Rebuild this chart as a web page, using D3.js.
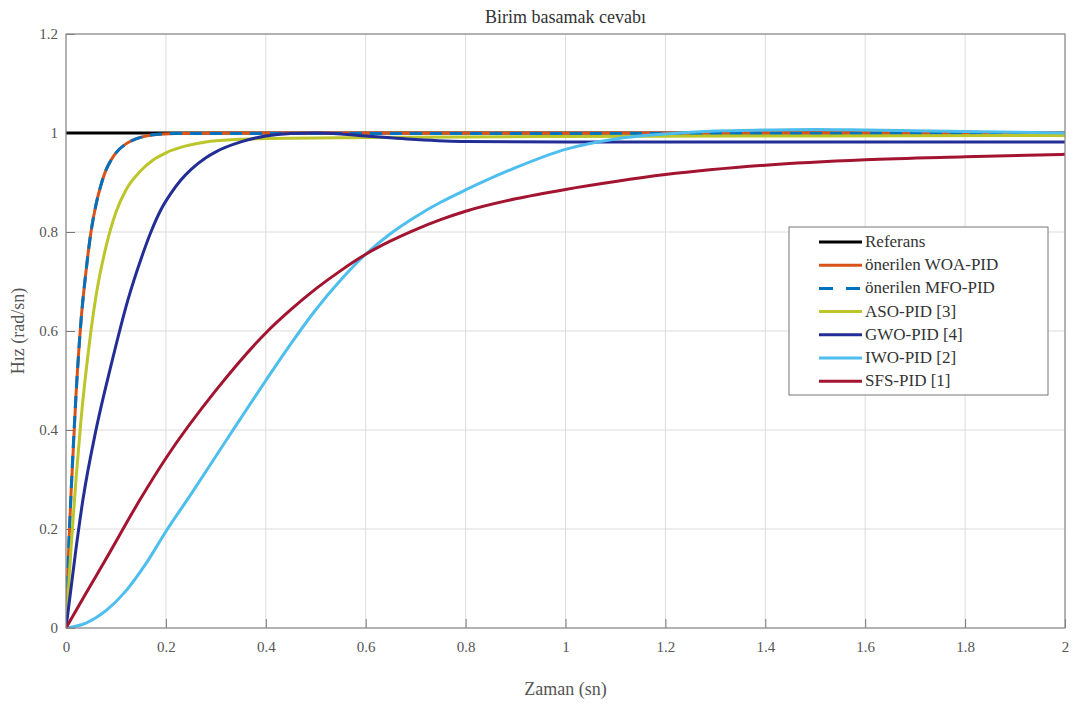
<!DOCTYPE html>
<html>
<head>
<meta charset="utf-8">
<script src="https://cdn.jsdelivr.net/npm/d3@7"></script>
<style>
  html, body { margin: 0; padding: 0; background: #fff; }
  svg { display: block; }
  svg text { font-family: "Liberation Serif", "Times New Roman", "DejaVu Serif", serif !important; }
</style>
</head>
<body>
<svg id="chart" width="1078" height="704"></svg>
<script>
// ---- data ----
const xTicks = [0, 0.2, 0.4, 0.6, 0.8, 1, 1.2, 1.4, 1.6, 1.8, 2];
const yTicks = [0, 0.2, 0.4, 0.6, 0.8, 1, 1.2];

const refT = [0, 2];
const refY = [1, 1];

const woaT = [0, 0.005, 0.01, 0.02, 0.03, 0.04, 0.05, 0.06, 0.07, 0.08, 0.09, 0.1, 0.12, 0.14, 0.16, 0.18, 0.22, 0.3, 0.5, 1, 2];
const woaY = [0, 0.15, 0.27, 0.47, 0.62, 0.72, 0.80, 0.855, 0.895, 0.925, 0.945, 0.96, 0.978, 0.988, 0.994, 0.997, 0.999, 1.0, 1.0, 1.0, 1.0];

const mfoT = [0, 0.005, 0.01, 0.02, 0.03, 0.04, 0.05, 0.06, 0.07, 0.08, 0.09, 0.1, 0.12, 0.14, 0.16, 0.18, 0.22, 0.3, 0.5, 1, 2];
const mfoY = [0, 0.15, 0.27, 0.47, 0.62, 0.72, 0.80, 0.855, 0.895, 0.925, 0.945, 0.96, 0.978, 0.988, 0.994, 0.997, 0.999, 0.999, 0.999, 0.999, 0.999];

const asoT = [0, 0.01, 0.02, 0.03, 0.045, 0.06, 0.08, 0.1, 0.12, 0.148, 0.175, 0.2, 0.24, 0.28, 0.34, 0.4, 0.6, 1.0, 1.5, 2.0];
const asoY = [0, 0.16, 0.30, 0.42, 0.56, 0.67, 0.77, 0.84, 0.885, 0.922, 0.946, 0.96, 0.974, 0.982, 0.987, 0.989, 0.991, 0.993, 0.994, 0.995];

const gwoT = [0, 0.02, 0.034, 0.06, 0.09, 0.124, 0.15, 0.17, 0.19, 0.21, 0.23, 0.25, 0.28, 0.3, 0.35, 0.4, 0.45, 0.5, 0.55, 0.6, 0.7, 0.8, 1.0, 1.5, 2.0];
const gwoY = [0, 0.16, 0.26, 0.40, 0.53, 0.663, 0.745, 0.80, 0.845, 0.878, 0.905, 0.926, 0.95, 0.962, 0.982, 0.994, 0.999, 1.0, 0.998, 0.994, 0.987, 0.983, 0.982, 0.982, 0.982];

const iwoT = [0, 0.04, 0.08, 0.12, 0.16, 0.2, 0.25, 0.3, 0.35, 0.4, 0.45, 0.5, 0.55, 0.6, 0.65, 0.7, 0.75, 0.8, 0.9, 1.0, 1.1, 1.2, 1.3, 1.4, 1.5, 1.6, 1.8, 2.0];
const iwoY = [0, 0.01, 0.035, 0.075, 0.13, 0.195, 0.27, 0.347, 0.424, 0.5, 0.574, 0.643, 0.703, 0.755, 0.797, 0.831, 0.86, 0.885, 0.93, 0.967, 0.988, 0.998, 1.004, 1.006, 1.007, 1.006, 1.003, 1.0];

const sfsT = [0, 0.04, 0.082, 0.148, 0.2, 0.3, 0.4, 0.45, 0.5, 0.55, 0.6, 0.65, 0.7, 0.75, 0.8, 0.9, 1.0, 1.1, 1.2, 1.4, 1.6, 1.8, 2.0];
const sfsY = [0, 0.07, 0.143, 0.259, 0.343, 0.48, 0.596, 0.643, 0.685, 0.722, 0.755, 0.782, 0.805, 0.825, 0.842, 0.867, 0.886, 0.902, 0.916, 0.935, 0.946, 0.952, 0.957];

const seriesNames = ["Referans", "önerilen WOA-PID", "önerilen MFO-PID", "ASO-PID [3]", "GWO-PID [4]", "IWO-PID [2]", "SFS-PID [1]"];

// ---- styles ----
const styles = [
  { color: "#000000", dash: null },
  { color: "#D95319", dash: null },
  { color: "#0072BD", dash: "12,8" },
  { color: "#BCC52A", dash: null },
  { color: "#222E95", dash: null },
  { color: "#4DBEEE", dash: null },
  { color: "#A2142F", dash: null }
];
const seriesData = [
  [refT, refY], [woaT, woaY], [mfoT, mfoY], [asoT, asoY],
  [gwoT, gwoY], [iwoT, iwoY], [sfsT, sfsY]
];

const FONT = "'Liberation Serif', 'Times New Roman', serif";
const svg = d3.select("#chart").attr("font-family", FONT);
const margin = { left: 66, right: 13, top: 34, bottom: 76 };
const W = 1078, H = 704;
const iw = W - margin.left - margin.right;
const ih = H - margin.top - margin.bottom;

const x = d3.scaleLinear().domain([0, 2]).range([margin.left, margin.left + iw]);
const y = d3.scaleLinear().domain([0, 1.2]).range([margin.top + ih, margin.top]);

// grid
const grid = svg.append("g");
grid.selectAll(".gx").data(xTicks).join("line")
  .attr("x1", d => x(d)).attr("x2", d => x(d))
  .attr("y1", margin.top).attr("y2", margin.top + ih)
  .attr("stroke", "#dcdcdc").attr("stroke-width", 1);
grid.selectAll(".gy").data(yTicks).join("line")
  .attr("x1", margin.left).attr("x2", margin.left + iw)
  .attr("y1", d => y(d)).attr("y2", d => y(d))
  .attr("stroke", "#dcdcdc").attr("stroke-width", 1);

// axes
const xAxis = d3.axisBottom(x).tickValues(xTicks).tickSizeInner(-9).tickSizeOuter(0)
  .tickPadding(13).tickFormat(d3.format("~g"));
const yAxis = d3.axisLeft(y).tickValues(yTicks).tickSizeInner(-9).tickSizeOuter(0)
  .tickPadding(8).tickFormat(d3.format("~g"));

const gx = svg.append("g").attr("transform", `translate(0,${margin.top + ih})`).call(xAxis);
const gy = svg.append("g").attr("transform", `translate(${margin.left},0)`).call(yAxis);
[gx, gy].forEach(g => {
  g.attr("font-family", FONT).attr("font-size", 15);
  g.select(".domain").remove();
  g.selectAll(".tick line").attr("stroke", "#777");
  g.selectAll(".tick text").attr("fill", "#555");
});

// lines
svg.append("clipPath").attr("id", "clip").append("rect")
  .attr("x", margin.left).attr("y", margin.top - 4).attr("width", iw).attr("height", ih + 4);

const line = d3.line().x(d => x(d[0])).y(d => y(d[1])).curve(d3.curveMonotoneX);
const lines = svg.append("g").attr("clip-path", "url(#clip)");
seriesData.forEach((s, i) => {
  const pts = s[0].map((t, k) => [t, s[1][k]]);
  lines.append("path").datum(pts)
    .attr("d", line)
    .attr("fill", "none")
    .attr("stroke", styles[i].color)
    .attr("stroke-width", 3)
    .attr("stroke-dasharray", styles[i].dash)
    .attr("stroke-linejoin", "round");
});

// box
svg.append("rect").attr("x", margin.left).attr("y", margin.top)
  .attr("width", iw).attr("height", ih)
  .attr("fill", "none").attr("stroke", "#8a8a8a").attr("stroke-width", 1.2);

// title and labels
svg.append("text").attr("x", x(1)).attr("y", 23).attr("text-anchor", "middle")
  .attr("fill", "#333").attr("font-size", 18).text("Birim basamak cevabı");
svg.append("text").attr("x", x(1)).attr("y", 695).attr("text-anchor", "middle")
  .attr("fill", "#555").attr("font-size", 18).text("Zaman (sn)");
svg.append("text").attr("transform", `translate(24,${y(0.6)}) rotate(-90)`)
  .attr("text-anchor", "middle").attr("fill", "#555").attr("font-size", 18)
  .text("Hız (rad/sn)");

// legend
const lg = svg.append("g");
const lx = 789, ly = 227, lw = 259, lh = 168;
lg.append("rect").attr("x", lx).attr("y", ly).attr("width", lw).attr("height", lh)
  .attr("fill", "#fff").attr("stroke", "#777").attr("stroke-width", 1);
seriesNames.forEach((name, i) => {
  const yy = ly + 15 + i * 23.2;
  lg.append("line").attr("x1", lx + 30).attr("x2", lx + 73)
    .attr("y1", yy).attr("y2", yy)
    .attr("stroke", styles[i].color).attr("stroke-width", 3)
    .attr("stroke-dasharray", styles[i].dash ? "14,13" : null);
  lg.append("text").attr("x", lx + 76).attr("y", yy + 5)
    .attr("fill", "#333").attr("font-size", 17).text(name);
});
</script>
</body>
</html>
